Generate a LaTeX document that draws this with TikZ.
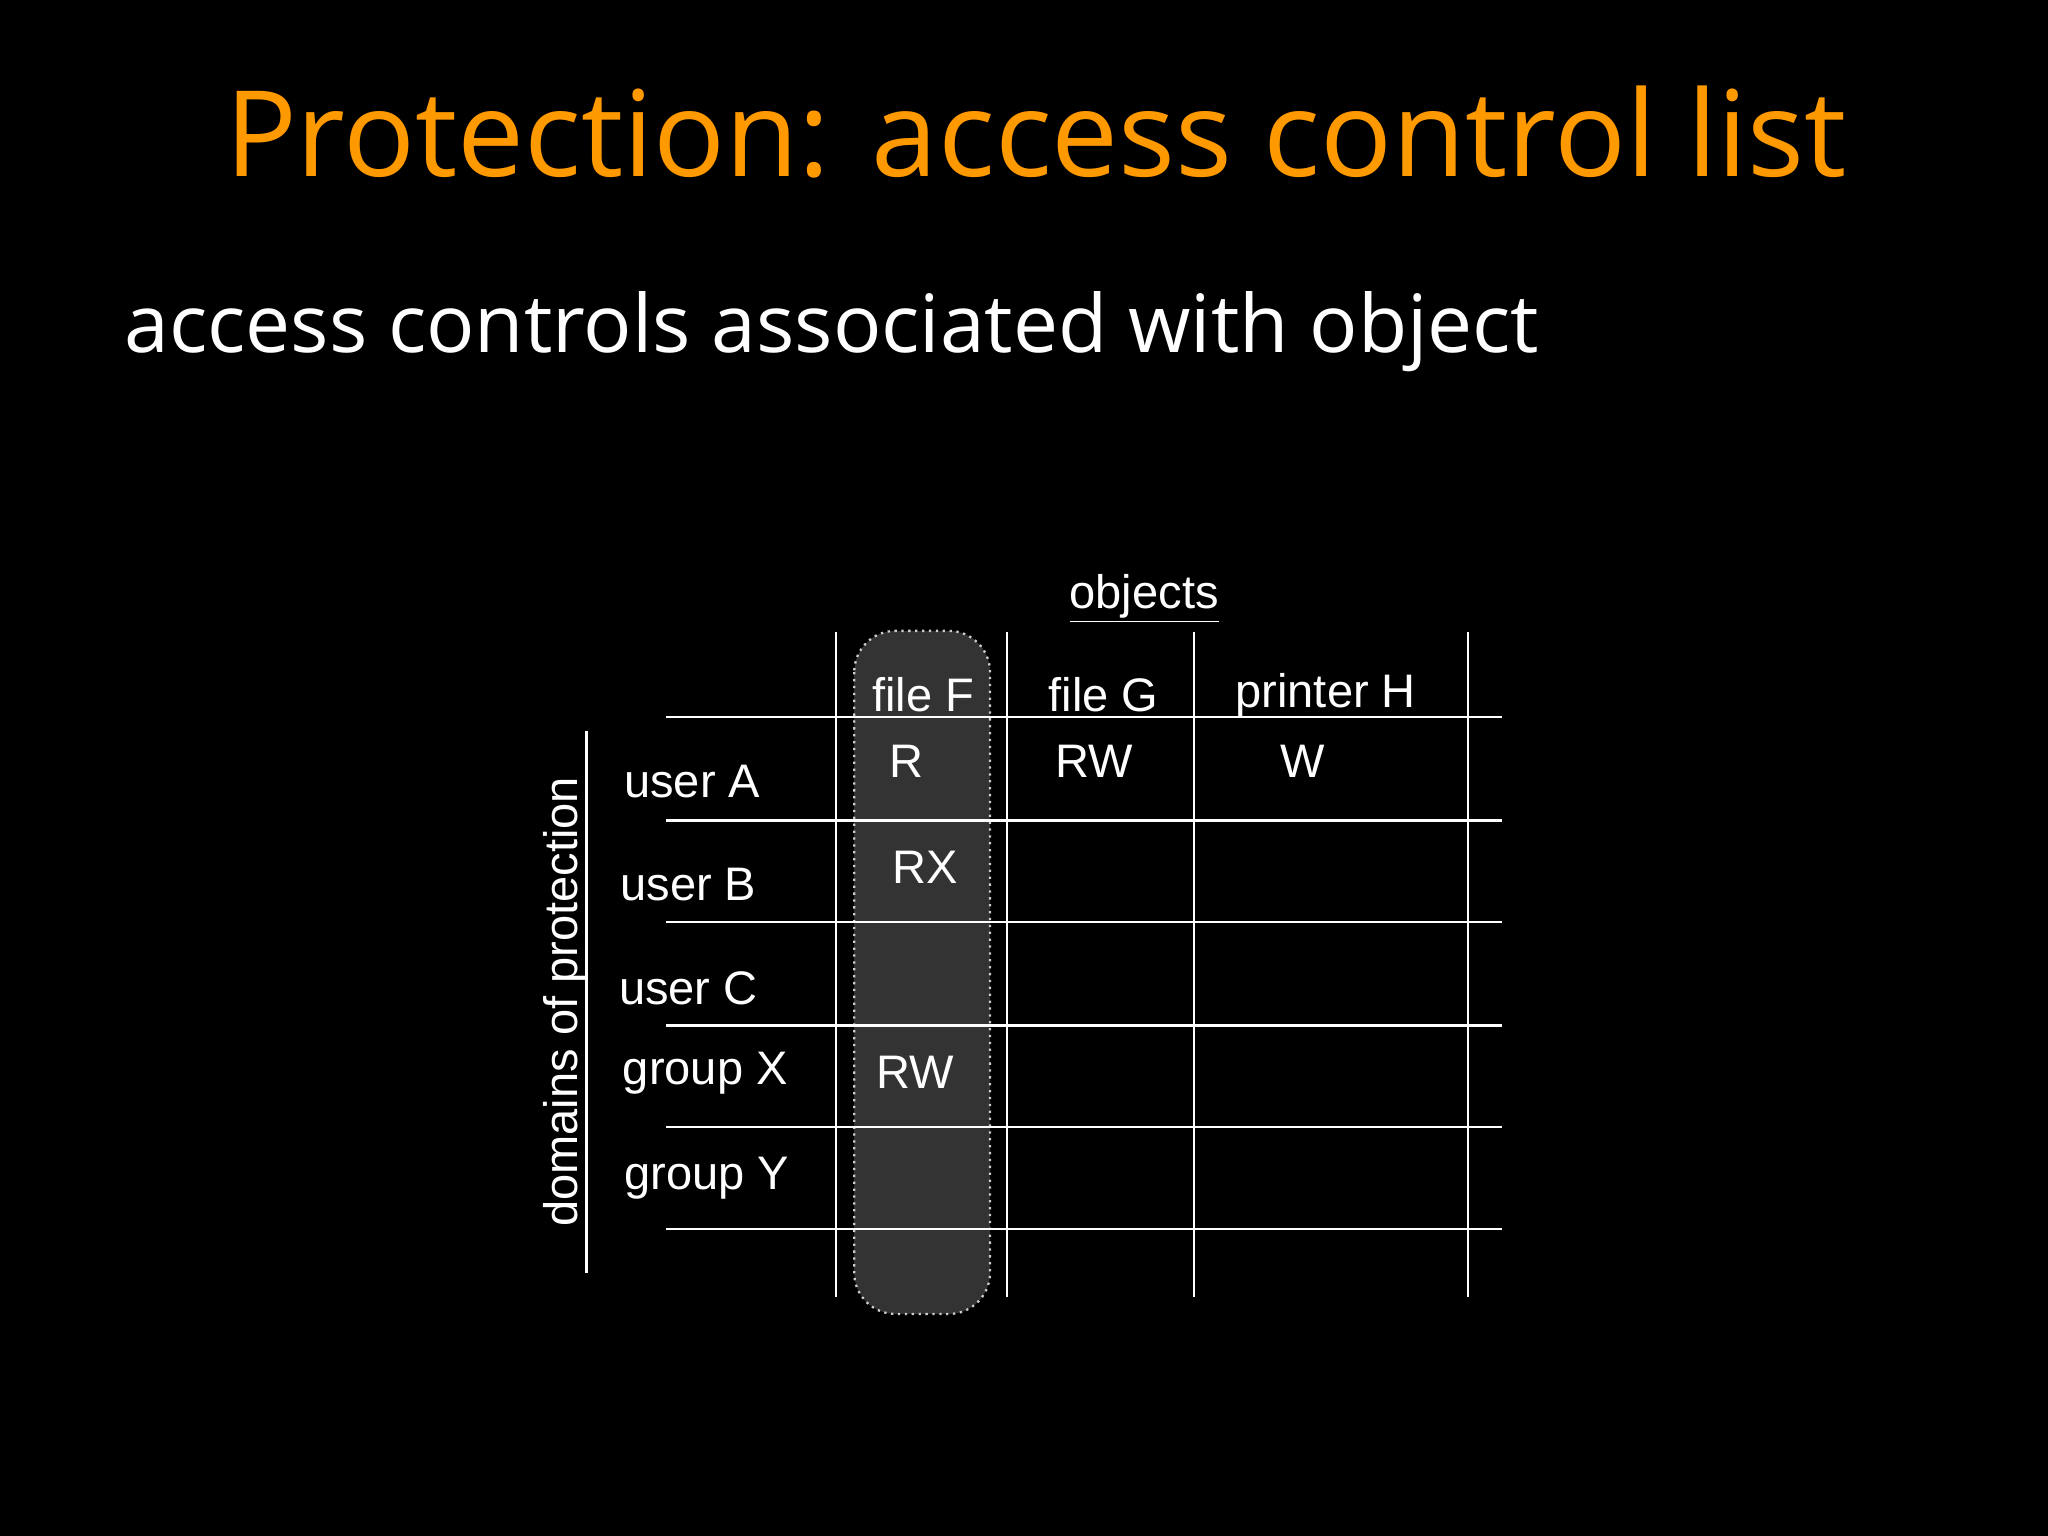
\documentclass[tikz,border=0pt]{standalone}
\usepackage{fontspec}
\setmainfont{Liberation Sans}
\newfontfamily\titlefont{Open Sans}
\begin{document}
\begin{tikzpicture}[x=0.02cm,y=-0.02cm,
  grid/.style={draw=white,line width=1.1pt},
  txt/.style={text=white,font=\fontsize{20.5}{24}\selectfont,inner sep=0pt},
  ttl/.style={text=orange!80!yellow,font=\titlefont\fontsize{52}{60}\selectfont,inner sep=0pt},
  sub/.style={text=white,font=\titlefont\fontsize{35}{42}\selectfont,inner sep=0pt}]
\fill[black] (0,0) rectangle (1568,1176);
\useasboundingbox (0,0) rectangle (1568,1176);
\node[ttl,anchor=base west] (title) at (172,135) {Protection: access control list};
\node[sub,anchor=base west] (subt) at (95,270) {access controls associated with object};
\draw[fill=gray!40!black,draw=white!80!black,dotted,line width=1pt,rounded corners=18pt] (654,483) rectangle (758,1006);
\foreach \x in {640,771,914,1124} \draw[grid] (\x,484) -- (\x,993);
\foreach \y in {549,628,706,785,863,941} \draw[grid] (510,\y) -- (1150,\y);
\node[txt] (obj) at (876,458) {\underline{objects}};
\node[txt,rotate=90] (dom) at (433,767) {domains of protection};
\draw[grid] (449,560) -- (449,975);
\node[txt] (ua) at (530,598) {user A};
\node[txt] (ub) at (527,677) {user B};
\node[txt] (uc) at (527,757) {user C};
\node[txt] (gx) at (540,822) {group X};
\node[txt] (gy) at (541,902) {group Y};
\node[txt] (fF) at (707,532) {file F};
\node[txt] (fG) at (845,532) {file G};
\node[txt] (pH) at (1015,532) {printer H};
\node[txt] (c1) at (694,583) {R};
\node[txt] (c2) at (838,583) {RW};
\node[txt] (c3) at (997,583) {W};
\node[txt] (c4) at (708,664) {RX};
\node[txt] (c5) at (701,821) {RW};
\end{tikzpicture}
\end{document}
